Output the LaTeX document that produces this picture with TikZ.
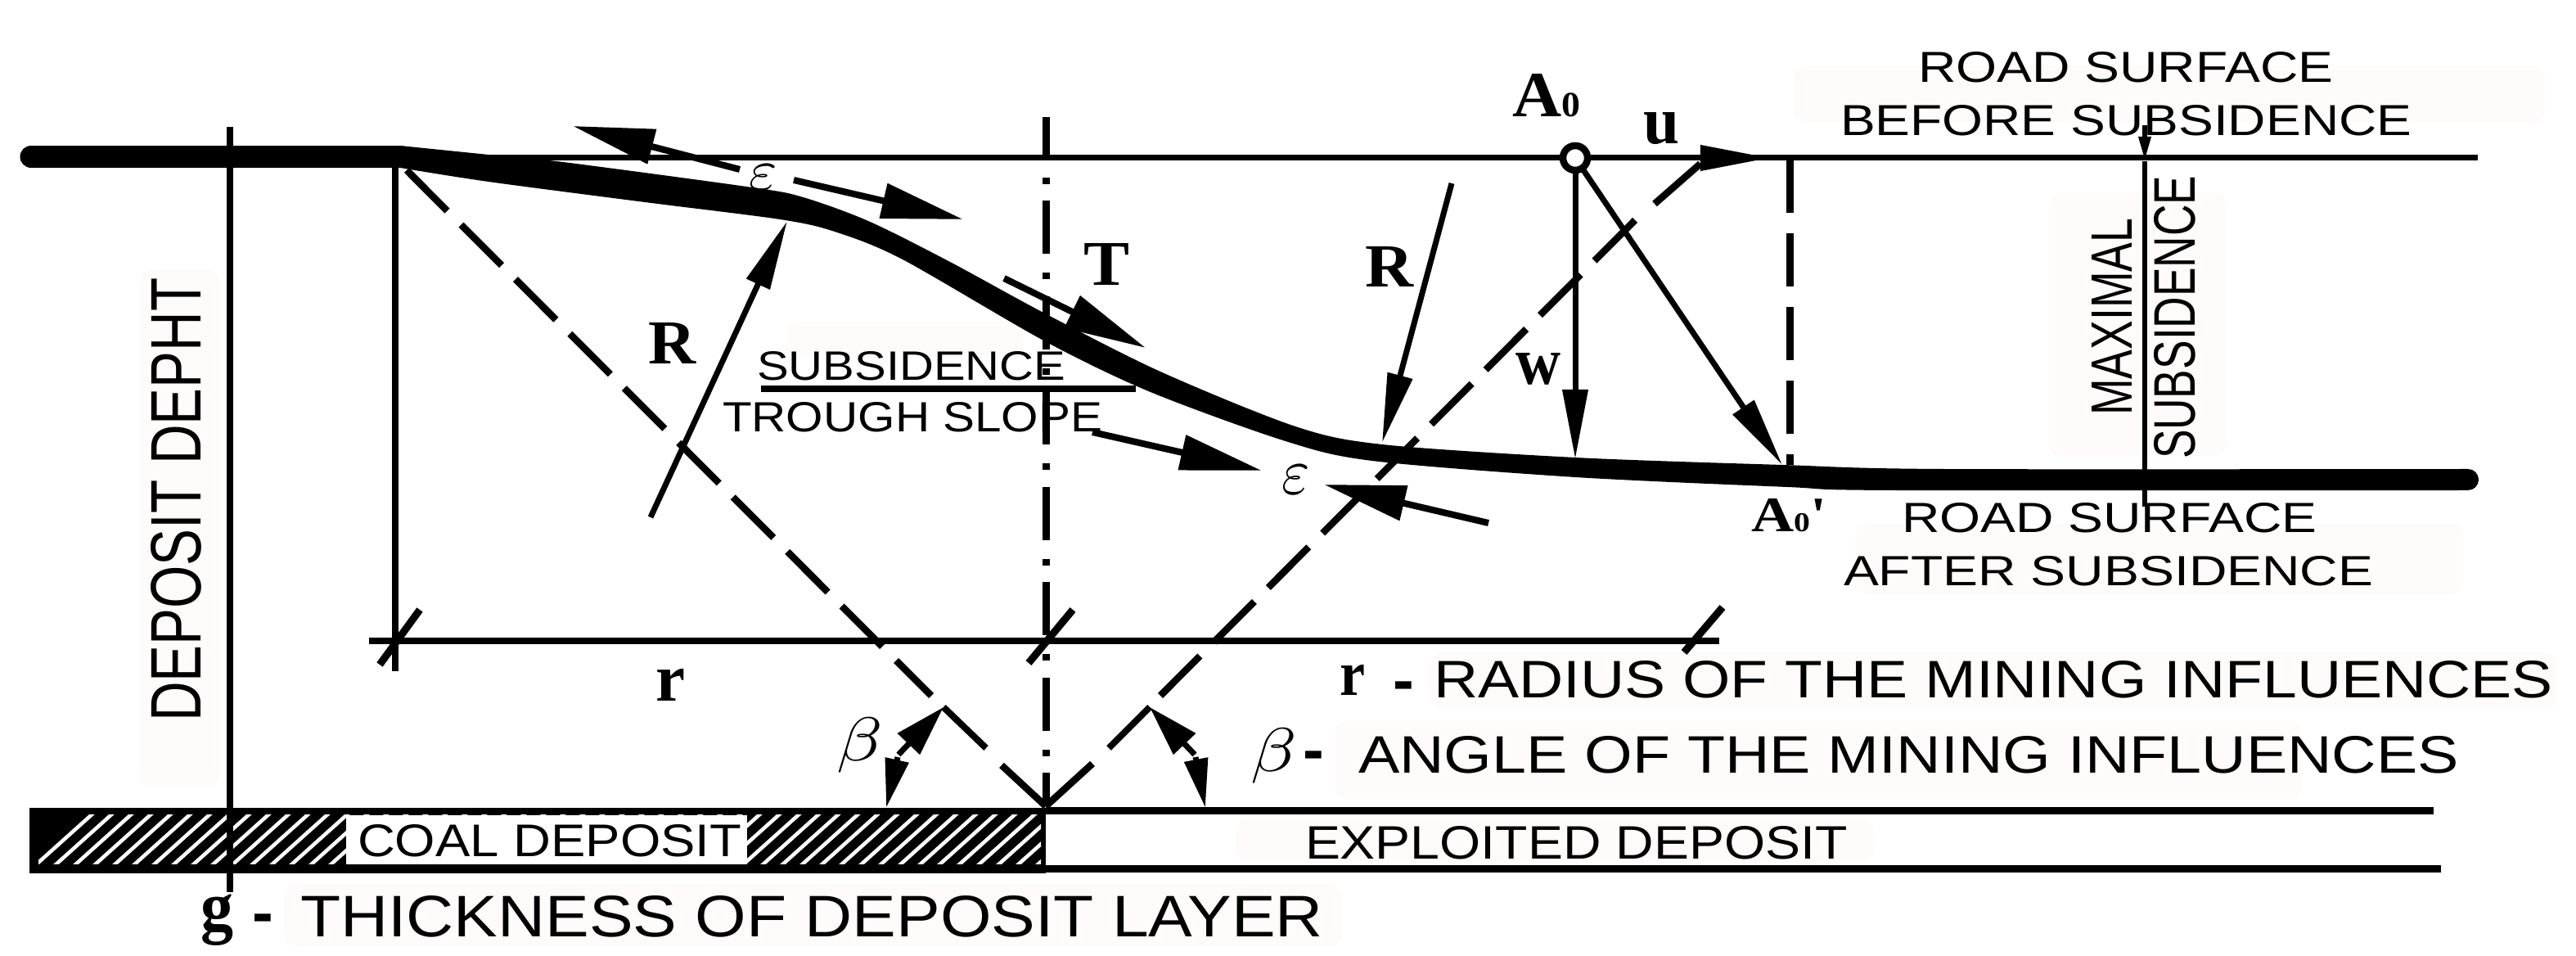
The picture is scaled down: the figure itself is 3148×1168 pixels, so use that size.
\documentclass[tikz,border=0pt]{standalone}
\usepackage{fontspec}
\usepackage{graphicx}
\setmainfont{Liberation Sans}
\newfontfamily\lblserif{Liberation Serif}
\usetikzlibrary{arrows.meta}
\definecolor{blotch}{HTML}{FFFBFB}
\tikzset{
  lbl/.style={inner sep=0pt,outer sep=0pt},
  road/.style={line width=0.07cm},
  dim/.style={line width=0.08cm},
  tickline/.style={line width=0.09cm},
  slopedash/.style={line width=0.085cm,dash pattern=on 0.70cm off 0.24cm},
  vdash/.style={line width=0.09cm,dash pattern=on 0.65cm off 0.25cm},
  axisline/.style={line width=0.09cm,dash pattern=on 0.65cm off 0.23cm on 0.08cm off 0.204cm,dash phase=0.14cm},
  bighead/.style={line width=0.07cm,-{Triangle[length=0.85cm,width=0.3cm]}},
  strainhead/.style={line width=0.08cm,-{Triangle[length=1.0cm,width=0.42cm]}},
  anglehead/.style={line width=0.07cm,-{Triangle[length=0.62cm,width=0.36cm]}},
  anglefoot/.style={line width=0.07cm,-{Triangle[length=0.6cm,width=0.28cm]}},
  band/.style={line width=0.09cm},
  hatchline/.style={white,line width=0.045cm},
  patch/.style={fill=blotch,rounded corners=0.15cm},
}
\newcommand\tx[6]{%
  \pgfmathsetmacro\lblw{(#3-#2)/100}\pgfmathsetmacro\lblh{(#5-#4)/100}%
  \node[lbl,anchor=base west] (#1) at (#2,#5) {\resizebox{\lblw cm}{\lblh cm}{#6}};}
\newcommand\txr[6]{%
  \pgfmathsetmacro\lblw{(#3-#4)/100}\pgfmathsetmacro\lblh{#5/100}%
  \node[lbl,rotate=90,anchor=base west] (#1) at (#2,#3) {\resizebox{\lblw cm}{\lblh cm}{#6}};}
\newcommand\mysym[6]{\node[lbl] (#1) at (#2,#3) {\scalebox{#4}[#5]{#6}};}
\newcommand\myhy[3]{\node[lbl,anchor=base west,font=\fontsize{22pt}{22pt}\selectfont\bfseries] (#1) at (#2,#3) {-};}
\begin{document}
\begin{tikzpicture}[x=0.01cm,y=-0.01cm]
\useasboundingbox (0,0) rectangle (3148,1168);
% faint patches of the scan
\path[patch] (2192,80) rectangle (3110,150);
\path[patch] (170,330) rectangle (270,960);
\path[patch] (2503,235) rectangle (2721,557);
\path[patch] (1747,797) rectangle (3125,867);
\path[patch] (1631,880) rectangle (2814,977);
\path[patch] (1510,1000) rectangle (2290,1053);
\path[patch] (2267,640) rectangle (3010,726);
\path[patch] (347,1080) rectangle (1640,1157);
\path[patch] (962,393) rectangle (1250,437);
% key points
\coordinate (A0) at (1925,193);
\coordinate (A1) at (2178,568);
\coordinate (W1) at (1925,561);
\coordinate (C) at (1278,985);
\coordinate (SL) at (497,208);
\coordinate (SLe) at (1138,850);
\coordinate (SLb) at (1224,935);
\coordinate (SR) at (2078,200);
\coordinate (SRa) at (2022,249);
\coordinate (SRc) at (1998,269);
\coordinate (SRe) at (1418,850);
\coordinate (SRb) at (1335,933);
% deposit
\fill (36,987) rectangle (1278,1067);
\begin{scope}
  \clip (47,996) rectangle (1272,1056);
  \foreach \k in {0,...,52} {
    \draw[hatchline] ({40+\k*24},1060) -- ({40+\k*24+78},990);
  }
\end{scope}
\fill[white] (423,996) rectangle (913,1056);
\coordinate (TR) at (2974,991);
\coordinate (BR) at (2983,1062);
\draw[band] (C |- TR) -- (TR);
\draw[band] (C |- BR) -- (BR);
% road surface
\draw[road] (489,193) -- (3028,193);
\draw[line width=0.27cm,line cap=round] (38,191.5) -- (489,191.5);
\fill plot[smooth] coordinates {(489,178) (597,189) (688,198) (912,228) (978,240) (1061,270) (1161,320) (1277,383) (1418,454) (1583,521) (1689,543) (1925,559) (2178,568) (2373,573) (3015,573)}
   -- plot[smooth] coordinates {(3015,599) (2314,599) (2184,595) (1925,583) (1677,563) (1571,539) (1406,479) (1277,417) (1103,317) (1020,283) (953,268) (788,247) (597,222) (489,205)} -- cycle;
\draw[line width=0.26cm,line cap=round] (3015,586) -- (3016,586);
% verticals
\coordinate (DT) at (281,155); \coordinate (DB) at (281,1090);
\draw[dim] (DT) -- (DB);
\coordinate (RT) at (483,205); \coordinate (RB) at (483,820);
\draw[dim] (RT) -- (RB);
\coordinate (AT) at (1278,143);
\draw[axisline] (AT) -- (C);
% dashed influence lines
\draw[slopedash] (SL) -- (SLe);
\draw[line width=0.085cm] (SLb) -- (C);
\draw[line width=0.085cm] (SR) -- (SRa);
\draw[slopedash] (SRc) -- (SRe);
\draw[line width=0.085cm] (SRb) -- (C);
\draw[vdash] (2187,195) -- (2187,568);
% r dimension
\coordinate (RL) at (451,783); \coordinate (RRi) at (2101,783);
\draw[dim] (RL) -- (RRi);
\draw[tickline] (513,745) -- (464,812);
\draw[tickline] (1311,745) -- (1257,810);
\draw[tickline] (2105,742) -- (2058,797);
% maximal subsidence
\coordinate (MT) at (2621,153); \coordinate (MB) at (2621,619);
\draw[line width=0.06cm,-{Triangle[length=0.3cm,width=0.14cm]}] (MT) -- (2621,197);
\draw[line width=0.06cm] (2621,197) -- (MB);
% main arrows
\draw[line width=0.07cm,-{Triangle[length=0.85cm,width=0.3cm]}] (2070,193) -- (2163,193);
\draw[bighead] (A0) -- (W1);
\draw[bighead] (A0) -- (A1);
\draw[bighead] (1774,224) -- (1689,541);
\draw[bighead] (795,632) -- (962,270);
\fill[white] (A0) circle (0.15cm);
\draw[line width=0.085cm] (A0) circle (0.15cm);
% strain arrows
\draw[strainhead] (904,207) -- (700,154);
\draw[strainhead] (970,220) -- (1177,268);
\draw[strainhead] (1227,340) -- (1400,425);
\draw[strainhead] (1335,528) -- (1542,575);
\draw[strainhead] (1819,639) -- (1618,592);
% slope label line
\draw[dim] (930,475) -- (1388,475);
% angle marks
\coordinate (AL) at (1153,864);
\coordinate (AR) at (1405,864);
\draw[line width=0.08cm] (AL) -- (1205,914);
\draw[line width=0.08cm] (AR) -- (1355,914);
\draw[anglehead] (1098,922) -- (AL);
\draw[anglefoot] (1097,925) -- (1083,987);
\draw[anglehead] (1460,922) -- (AR);
\draw[anglefoot] (1461,925) -- (1473,987);
% sans labels
\tx{rs1}{2344}{2851}{64}{101}{ROAD SURFACE}
\tx{rs2}{2249}{2947}{129}{166}{BEFORE SUBSIDENCE}
\tx{rs3}{2324}{2831}{615}{651}{ROAD SURFACE}
\tx{rs4}{2253}{2900}{680}{716}{AFTER SUBSIDENCE}
\txr{ms1}{2605}{508}{267}{49}{MAXIMAL}
\txr{ms2}{2682}{561}{215}{50}{SUBSIDENCE}
\txr{dd}{245}{882}{340}{61}{DEPOSIT DEPHT}
\tx{ts1}{925}{1302}{430}{465}{SUBSIDENCE}
\tx{ts2}{883}{1347}{492}{528}{TROUGH SLOPE}
\tx{coal}{437}{906}{1008}{1047}{COAL DEPOSIT}
\tx{expl}{1595}{2257}{1010}{1050}{EXPLOITED DEPOSIT}
\tx{thk}{367}{1616}{1095}{1145}{THICKNESS OF DEPOSIT LAYER}
\tx{ang}{1660}{3004}{900}{945}{ANGLE OF THE MINING INFLUENCES}
\tx{rad}{1752}{3119}{808}{853}{RADIUS OF THE MINING INFLUENCES}
\myhy{hg}{308}{1142}
\myhy{hr}{1702}{858}
\myhy{hb}{1592}{943}
% serif labels
\tx{a0}{1848}{1931}{91}{143}{\lblserif\bfseries A\scalebox{.55}{0}}
\tx{a1}{2140}{2232}{610}{650}{\lblserif\bfseries A\scalebox{.55}{0}'}
\tx{lu}{2008}{2052}{138}{176}{\lblserif\bfseries u}
\tx{lw}{1852}{1907}{432}{470}{\lblserif\bfseries w}
\tx{lT}{1324}{1380}{298}{349}{\lblserif\bfseries T}
\tx{lRr}{1668}{1727}{302}{351}{\lblserif\bfseries R}
\tx{lRl}{792}{850}{395}{445}{\lblserif\bfseries R}
\tx{lr}{801}{837}{818}{857}{\lblserif\bfseries r}
\tx{lrb}{1637}{1668}{813}{850}{\lblserif\bfseries r}
\tx{lg}{245}{285}{1093}{1137}{\lblserif\bfseries g}
% greek
\mysym{b1}{1051}{911}{2.6}{2.15}{$\beta$}
\mysym{b2}{1557}{924}{2.6}{2.15}{$\beta$}
\mysym{e1}{933}{217}{2.1}{2.05}{$\varepsilon$}
\mysym{e2}{1584}{586}{2.1}{2.3}{$\varepsilon$}
\end{tikzpicture}
\end{document}
